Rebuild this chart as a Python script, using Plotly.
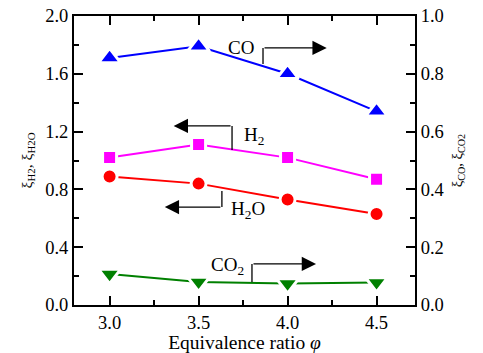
import plotly.graph_objects as go

phi = [3.0, 3.5, 4.0, 4.5]
xi_h2 = [1.02, 1.11, 1.02, 0.87]
xi_h2o = [0.89, 0.84, 0.73, 0.63]
xi_co = [0.855, 0.895, 0.80, 0.67]
xi_co2 = [0.107, 0.080, 0.074, 0.078]

FONT = "Liberation Serif"

fig = go.Figure()

def add(y, color, symbol, size, yaxis):
    fig.add_trace(go.Scatter(
        x=phi, y=y, mode="lines+markers", yaxis=yaxis,
        line=dict(color=color, width=2),
        marker=dict(symbol=symbol, size=size, color=color,
                    line=dict(color="white", width=3)),
        showlegend=False, cliponaxis=False))

add(xi_h2, "#ff00ff", "square", 14, "y")
add(xi_h2o, "#ff0000", "circle", 15, "y")
add(xi_co, "#0000ff", "triangle-up", 19, "y2")
add(xi_co2, "#008000", "triangle-down", 19, "y2")

# bent-arrow labels: (text, text_x, text_y, corner_x, start_y, bend_y, tip_x)
labels = [
    ("CO", 3.738, 1.785, 3.862, 1.668, 1.779, 4.22),
    ("H<sub>2</sub>", 3.811, 1.17, 3.688, 1.073, 1.239, 3.36),
    ("H<sub>2</sub>O", 3.778, 0.655, 3.631, 0.789, 0.678, 3.31),
    ("CO<sub>2</sub>", 3.665, 0.27, 3.80, 0.159, 0.284, 4.16),
]
for text, tx, ty, cx, sy, by, tip in labels:
    fig.add_annotation(x=tx, y=ty, xref="x", yref="y", text=text, showarrow=False,
                       font=dict(family=FONT, size=19, color="black"))
    fig.add_shape(type="line", x0=cx, x1=cx, y0=sy, y1=by, xref="x", yref="y",
                  line=dict(color="black", width=1.3))
    fig.add_annotation(x=tip, y=by, ax=cx, ay=by, xref="x", yref="y",
                       axref="x", ayref="y", text="", showarrow=True,
                       arrowhead=2, arrowsize=2.2, arrowwidth=1.3,
                       arrowcolor="black", standoff=0, startstandoff=0)

axis_common = dict(showline=True, linecolor="black", linewidth=2,
                   ticks="inside", tickcolor="black", tickwidth=2, ticklen=9,
                   showgrid=False, zeroline=False,
                   tickfont=dict(family=FONT, size=18.5, color="black"))

fig.update_layout(
    template="none",
    width=483, height=353,
    margin=dict(l=74, r=68, t=16, b=48),
    plot_bgcolor="white", paper_bgcolor="white",
    font=dict(family=FONT, color="black", size=18.5),
    xaxis=dict(range=[2.8, 4.716], tick0=3.0, dtick=0.5, tickformat=".1f",
               mirror="ticks",
               minor=dict(ticks="inside", dtick=0.25, tick0=3.0, ticklen=5,
                          tickwidth=2, tickcolor="black"),
               title=dict(text="Equivalence ratio <i>φ</i>", standoff=0,
                          font=dict(family=FONT, size=19.5)),
               **axis_common),
    yaxis=dict(range=[0, 2.0], tick0=0, dtick=0.4, tickformat=".1f",
               minor=dict(ticks="inside", dtick=0.2, ticklen=5,
                          tickwidth=2, tickcolor="black"),
               title=dict(text="ξ<sub>H2</sub>, ξ<sub>H2O</sub>", standoff=9,
                          font=dict(family=FONT, size=15.5)),
               **axis_common),
    yaxis2=dict(range=[0, 1.0], tick0=0, dtick=0.2, tickformat=".1f",
                overlaying="y", side="right",
                minor=dict(ticks="inside", dtick=0.1, ticklen=5,
                           tickwidth=2, tickcolor="black"),
                title=dict(text="ξ<sub>CO</sub>, ξ<sub>CO2</sub>", standoff=9,
                           font=dict(family=FONT, size=14.5)),
                **axis_common),
)

fig.write_html("out.html")
